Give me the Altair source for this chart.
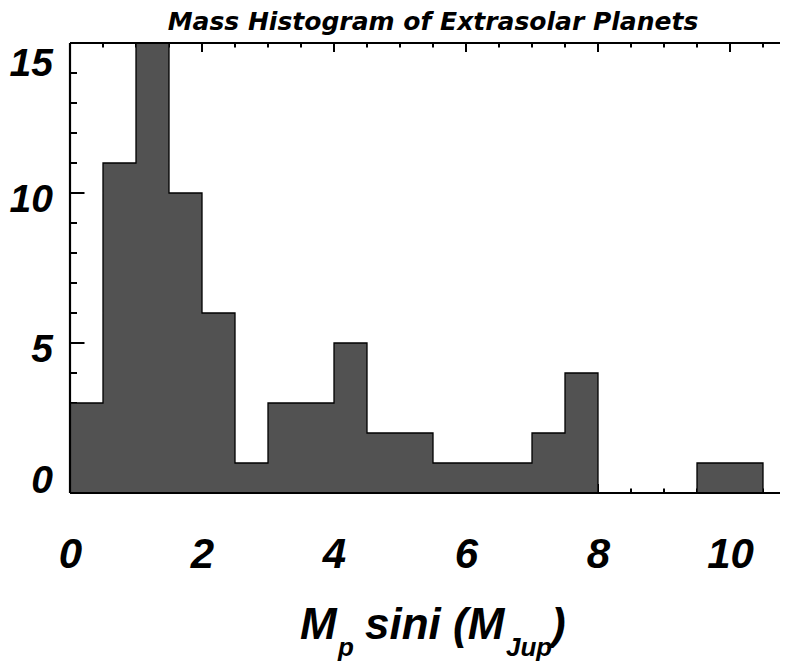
import altair as alt
import pandas as pd

# ---- data ----
bin_start = [0.0, 0.5, 1.0, 1.5, 2.0, 2.5, 3.0, 3.5, 4.0, 4.5, 5.0,
             5.5, 6.0, 6.5, 7.0, 7.5, 8.0, 8.5, 9.0, 9.5, 10.0, 10.5]
counts = [3, 11, 15, 10, 6, 1, 3, 3, 5, 2, 2,
          1, 1, 1, 2, 4, 0, 0, 0, 1, 1, 0]
x_max = 11.0
y_max = 15

x_label_values = [0, 2, 4, 6, 8, 10]
x_minor_ticks = [0.0, 0.5, 1.0, 1.5, 2.0, 2.5, 3.0, 3.5, 4.0, 4.5, 5.0, 5.5,
                 6.0, 6.5, 7.0, 7.5, 8.0, 8.5, 9.0, 9.5, 10.0, 10.5, 11.0]
y_label_values = [0, 5, 10, 15]
y_label_mid = [5, 10]
y_label_low = [0]
y_label_high = [15]
y_minor_ticks = [0, 1, 2, 3, 4, 5, 6, 7, 8, 9, 10, 11, 12, 13, 14, 15]

title_text = "Mass Histogram of Extrasolar Planets"
xt_main = ["M", "sini (M", ")"]
xt_sub = ["p", "Jup"]

# ---- layout ----
W_FULL = 726   # full plot width (the right edge falls outside the window)
W_VIEW = 710   # visible part (svg stays within the page width)
H = 450
MAJ_X, MIN_X = 9, 4.5
MAJ_Y, MIN_Y = 14.5, 7
FILL = "#525252"
FONT = "Liberation Sans"

hist = pd.DataFrame({"edge": bin_start + [x_max], "count": counts + [counts[-1]]})

# the view is W_VIEW wide; the domain is cut so that x_max lands at W_FULL
xs = alt.Scale(domain=[0, x_max * W_VIEW / W_FULL], nice=False, zero=False)
ys = alt.Scale(domain=[0, y_max], nice=False)

x_axis = alt.Axis(values=x_label_values, title=None, domain=False, ticks=False,
                  tickSize=0, grid=False, labelOverlap=False, labelFontSize=42,
                  labelFont=FONT, labelFontWeight="bold", labelFontStyle="italic",
                  labelColor="black", format="d", labelFlush=False, labelPadding=41)

layers = []

def xticks(vals, length):
    df = pd.DataFrame({"v": vals})
    top = alt.Chart(df).mark_rule(color="black", strokeWidth=2).encode(
        x=alt.X("v:Q", scale=xs, axis=x_axis), y=alt.value(0), y2=alt.value(length))
    bot = alt.Chart(df).mark_rule(color="black", strokeWidth=2).encode(
        x=alt.X("v:Q", scale=xs, axis=x_axis), y=alt.value(H - length), y2=alt.value(H))
    return [top, bot]

def yticks(vals, length):
    df = pd.DataFrame({"v": vals})
    left = alt.Chart(df).mark_rule(color="black", strokeWidth=2).encode(
        y=alt.Y("v:Q", scale=ys, axis=None), x=alt.value(0), x2=alt.value(length))
    right = alt.Chart(df).mark_rule(color="black", strokeWidth=2).encode(
        y=alt.Y("v:Q", scale=ys, axis=None), x=alt.value(W_FULL - length), x2=alt.value(W_FULL))
    return [left, right]

layers += xticks(x_minor_ticks, MIN_X)
layers += xticks(x_label_values, MAJ_X)
layers += yticks(y_minor_ticks, MIN_Y)
layers += yticks(y_label_values, MAJ_Y)

area = alt.Chart(hist).mark_area(interpolate="step-after", color=FILL, opacity=1).encode(
    x=alt.X("edge:Q", scale=xs, axis=x_axis),
    y=alt.Y("count:Q", scale=ys, axis=None))
line = alt.Chart(hist).mark_line(interpolate="step-after", color="black", strokeWidth=1.3).encode(
    x=alt.X("edge:Q", scale=xs, axis=x_axis),
    y=alt.Y("count:Q", scale=ys, axis=None))
layers += [area, line]

one = pd.DataFrame({"a": [0]})
frame = [
    alt.Chart(one).mark_rule(color="black", strokeWidth=2.2).encode(
        x=alt.value(0), x2=alt.value(W_FULL), y=alt.value(0)),
    alt.Chart(one).mark_rule(color="black", strokeWidth=2.2).encode(
        x=alt.value(0), x2=alt.value(W_FULL), y=alt.value(H)),
    alt.Chart(one).mark_rule(color="black", strokeWidth=2.2).encode(
        y=alt.value(0), y2=alt.value(H), x=alt.value(0)),
    alt.Chart(one).mark_rule(color="black", strokeWidth=2.2).encode(
        y=alt.value(0), y2=alt.value(H), x=alt.value(W_FULL)),
]
layers += frame

# y tick labels (IDL keeps the end labels inside the axis range)
def ylabels(vals, dy):
    return alt.Chart(pd.DataFrame({"v": vals})).mark_text(
        font=FONT, fontSize=39, fontWeight="bold", fontStyle="italic",
        align="right", baseline="middle", color="black", dy=dy).encode(
        y=alt.Y("v:Q", scale=ys, axis=None), text=alt.Text("v:Q", format="d"),
        x=alt.value(-17))

layers.append(ylabels(y_label_mid, 7))
layers.append(ylabels(y_label_high, 21))
layers.append(ylabels(y_label_low, -12))

def txt(s, x, y, size, font=FONT, align="left"):
    return alt.Chart(pd.DataFrame({"t": [s]})).mark_text(
        font=font, fontSize=size, fontWeight="bold", fontStyle="italic",
        align=align, baseline="alphabetic", color="black").encode(
        text="t:N", x=alt.value(x), y=alt.value(y))

layers.append(txt(title_text, W_FULL / 2, -13, 25, font="DejaVu Sans", align="center"))
layers.append(txt(xt_main[0], 230, 596, 44))
layers.append(txt(xt_sub[0], 268, 613, 26))
layers.append(txt(xt_main[1], 295, 596, 44))
layers.append(txt(xt_sub[1], 436, 613, 26))
layers.append(txt(xt_main[2], 481, 596, 44))

chart = alt.layer(*layers).properties(
    width=W_VIEW, height=H,
    padding={"left": 62, "top": 35, "right": 0, "bottom": 172},
    autosize=alt.AutoSizeParams(type="none"),
).configure_view(strokeWidth=0)

chart.save("out.html", embed_options={"renderer": "svg", "actions": False})
